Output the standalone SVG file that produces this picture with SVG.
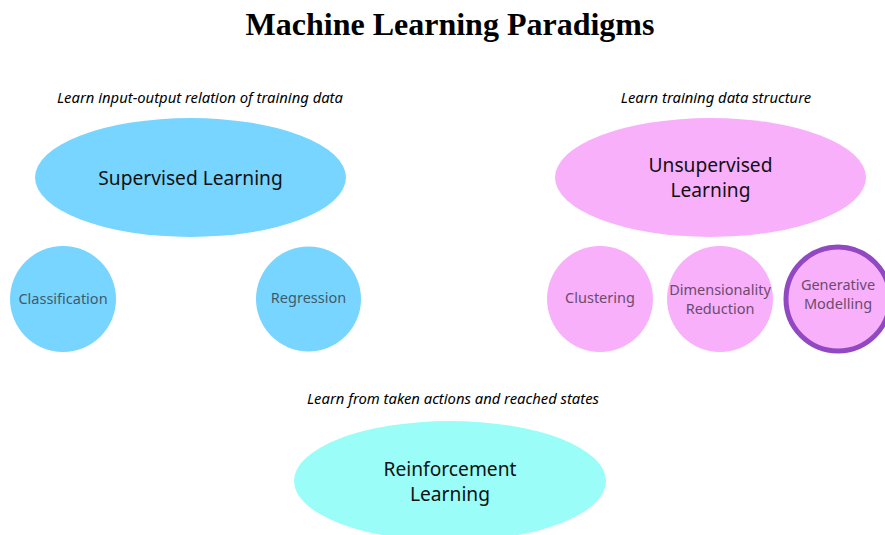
<svg xmlns="http://www.w3.org/2000/svg" width="885" height="535" viewBox="0 0 885 535">
  <style>
    .title { font-family: "Liberation Serif", "Times New Roman", serif; font-weight: bold; font-size: 32px; fill: #000; }
    .caption { font-family: "Noto Sans", "Liberation Sans", sans-serif; font-style: italic; font-size: 14.8px; fill: #000; }
    .main { font-family: "Noto Sans", "Liberation Sans", sans-serif; font-size: 19.2px; fill: #111; }
    .sub { font-family: "Noto Sans", "Liberation Sans", sans-serif; font-size: 14.5px; }
    .sup { fill: #78d5ff; }
    .uns { fill: #f8b0fb; }
    .rei { fill: #9afdf7; }
    .sub-sup { fill: #3f5b6b; }
    .sub-uns { fill: #6b4b6e; }
  </style>
  <rect width="885" height="535" fill="#fff"/>

  <text class="title" x="450" y="35" text-anchor="middle">Machine Learning Paradigms</text>

  <!-- captions -->
  <text class="caption" x="200" y="103" text-anchor="middle">Learn input-output relation of training data</text>
  <text class="caption" x="716" y="103" text-anchor="middle">Learn training data structure</text>
  <text class="caption" x="453" y="404" text-anchor="middle">Learn from taken actions and reached states</text>

  <!-- connectors: none drawn -->
  <g id="connectors"/>

  <g id="supervised">
    <ellipse class="sup" cx="190.5" cy="177.5" rx="155.5" ry="59.5"/>
    <text class="main" x="190.5" y="185" text-anchor="middle">Supervised Learning</text>
  </g>
  <g id="classification">
    <circle class="sup" cx="63" cy="299" r="53"/>
    <text class="sub sub-sup" x="63" y="304" text-anchor="middle">Classification</text>
  </g>
  <g id="regression">
    <circle class="sup" cx="308.5" cy="299" r="52.5"/>
    <text class="sub sub-sup" x="308.5" y="303" text-anchor="middle">Regression</text>
  </g>

  <g id="unsupervised">
    <ellipse class="uns" cx="710.5" cy="177.5" rx="155.5" ry="59.5"/>
    <text class="main" x="710.5" y="172" text-anchor="middle">Unsupervised</text>
    <text class="main" x="710.5" y="197" text-anchor="middle">Learning</text>
  </g>
  <g id="clustering">
    <circle class="uns" cx="600" cy="299" r="53"/>
    <text class="sub sub-uns" x="600" y="303" text-anchor="middle">Clustering</text>
  </g>
  <g id="dimensionality-reduction">
    <circle class="uns" cx="720" cy="299" r="53"/>
    <text class="sub sub-uns" x="720" y="295" text-anchor="middle">Dimensionality</text>
    <text class="sub sub-uns" x="720" y="314" text-anchor="middle">Reduction</text>
  </g>
  <g id="generative-modelling">
    <circle class="uns" cx="838" cy="299" r="52" stroke="#9148c2" stroke-width="5"/>
    <text class="sub sub-uns" x="838" y="290" text-anchor="middle">Generative</text>
    <text class="sub sub-uns" x="838" y="309" text-anchor="middle">Modelling</text>
  </g>

  <g id="reinforcement">
    <ellipse class="rei" cx="450" cy="481" rx="156" ry="60"/>
    <text class="main" x="450" y="476" text-anchor="middle">Reinforcement</text>
    <text class="main" x="450" y="501" text-anchor="middle">Learning</text>
  </g>
</svg>
